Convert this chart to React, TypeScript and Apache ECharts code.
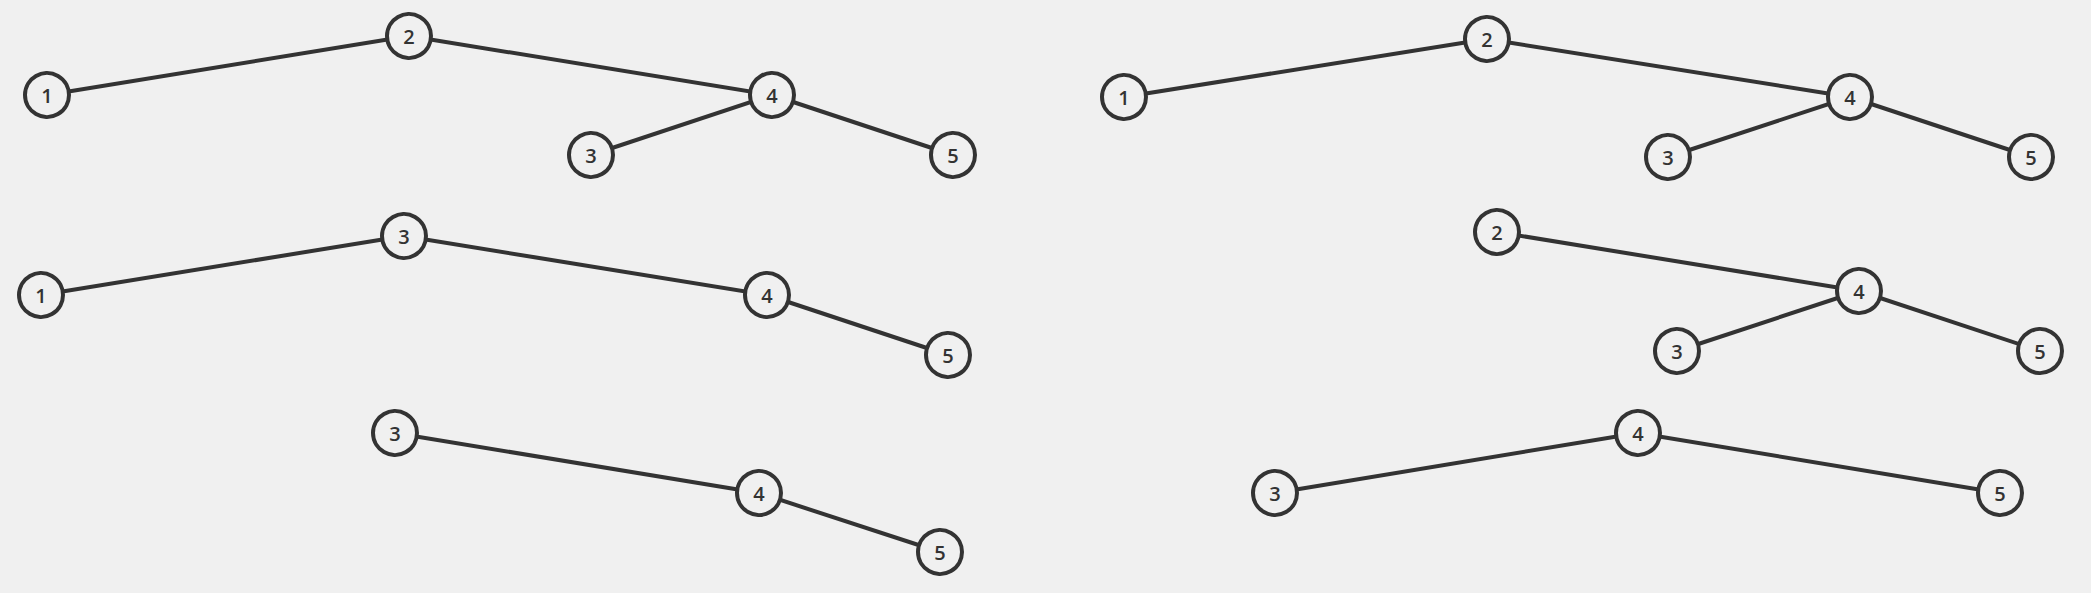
import { useEffect, useRef } from 'react'
import * as echarts from 'echarts'

// each tree: node labels, positions (x, y in page pixels), and edges by index
const treeLabels = [
  ['1', '2', '4', '3', '5'],
  ['1', '3', '4', '5'],
  ['3', '4', '5'],
  ['1', '2', '4', '3', '5'],
  ['2', '4', '3', '5'],
  ['4', '3', '5'],
]
const treeX = [
  [47, 409, 772, 591, 953],
  [41, 404, 767, 948],
  [395, 759, 940],
  [1124, 1487, 1850, 1668, 2031],
  [1497, 1859, 1677, 2040],
  [1638, 1275, 2000],
]
const treeY = [
  [95, 36, 95, 155, 155],
  [295, 236, 295, 355],
  [433, 493, 552],
  [97, 39, 97, 157, 157],
  [232, 291, 351, 351],
  [433, 493, 493],
]
const treeEdges = [
  [[0, 1], [1, 2], [2, 3], [2, 4]],
  [[0, 1], [1, 2], [2, 3]],
  [[0, 1], [1, 2]],
  [[0, 1], [1, 2], [2, 3], [2, 4]],
  [[0, 1], [1, 2], [1, 3]],
  [[0, 1], [0, 2]],
]

const W = 2091
const H = 593

export default function App() {
  const ref = useRef<HTMLDivElement>(null)

  useEffect(() => {
    if (!ref.current) return
    const chart = echarts.init(ref.current, undefined, { renderer: 'svg' })
    chart.setOption({
      animation: false,
      backgroundColor: '#f0f0f0',
      grid: { left: 0, right: 0, top: 0, bottom: 0 },
      xAxis: { type: 'value', min: 0, max: W, show: false },
      yAxis: { type: 'value', min: 0, max: H, inverse: true, show: false },
      series: treeLabels.map((labels, t) => ({
        type: 'graph',
        coordinateSystem: 'cartesian2d',
        symbol: 'circle',
        symbolSize: 44,
        itemStyle: { color: '#f0f0f0', borderColor: '#333', borderWidth: 4 },
        lineStyle: { color: '#333', width: 4, opacity: 1 },
        label: {
          show: true,
          position: 'inside',
          color: '#333',
          fontSize: 20,
          fontWeight: 600,
          fontFamily: 'Open Sans',
        },
        data: labels.map((name, i) => ({
          name: `${t}-${i}`,
          value: [treeX[t][i], treeY[t][i]],
          label: { formatter: name },
        })),
        links: treeEdges[t].map(([s, e]) => ({ source: s, target: e })),
      })),
    })
    return () => chart.dispose()
  }, [])

  return <div ref={ref} style={{ position: 'fixed', left: 0, top: 0, width: W, height: H }} />
}
